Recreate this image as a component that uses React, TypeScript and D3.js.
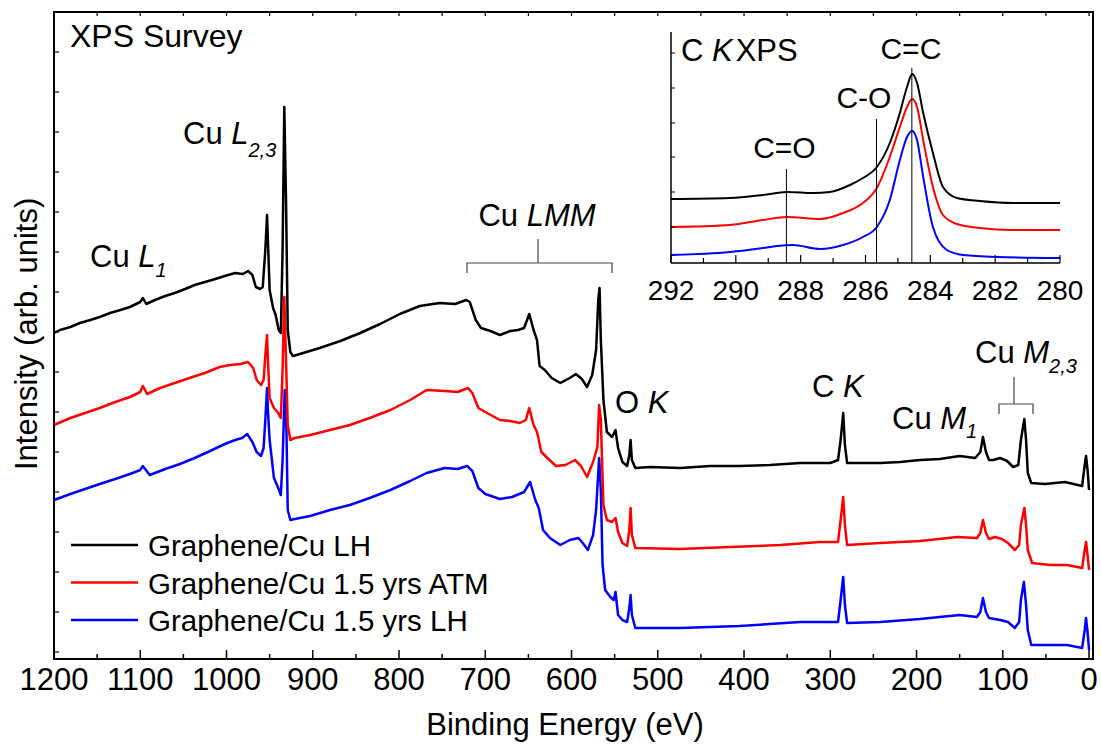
import React from 'react';
import * as d3 from 'd3';

// ---------- DATA (binding energy eV, intensity arb. units) ----------
const seriesNames = ['Graphene/Cu LH', 'Graphene/Cu 1.5 yrs ATM', 'Graphene/Cu 1.5 yrs LH'];
const seriesColors = ['#000000', '#ff0000', '#0000ff'];

const surveyLH: [number, number][] = [
  [1200, 326], [1193, 329], [1181, 332], [1170, 336], [1158, 339], [1147, 342], [1135, 346], [1123, 349],
  [1112, 352], [1100, 357], [1097, 361], [1093, 355], [1083, 359], [1071, 363], [1060, 366], [1048, 370],
  [1037, 374], [1025, 377], [1013, 380], [1002, 383], [990, 386], [981, 385], [975, 388], [970, 384],
  [966, 372], [961, 370], [958, 372], [955, 409], [953, 444], [952, 419], [950, 369], [946, 351],
  [943, 344], [939.5, 329], [937, 326], [935, 409], [933, 552], [931, 459], [929, 329], [926, 307],
  [923, 303], [915, 305], [892, 311], [868, 318], [845, 326], [822, 335], [799, 345], [776, 353],
  [753, 356], [735, 355], [722, 359], [718, 357], [711, 339], [705, 331], [694, 328], [683, 324],
  [671, 328], [662, 329], [655, 331], [649, 345], [644, 329], [640, 319], [637, 293], [631, 289],
  [623, 281], [613, 276], [602, 281], [595, 285], [588, 280], [582, 272], [576, 284], [571.5, 309],
  [569, 359], [567.5, 371], [566, 319], [563, 259], [559, 227], [553, 222], [549, 229], [546, 211],
  [541, 197], [535.5, 193], [533, 204], [531.5, 219], [530, 199], [526, 191], [509, 192], [474, 191],
  [439, 193], [405, 193], [370, 194], [335, 196], [300, 196], [291, 199], [288, 219], [285, 246],
  [283, 214], [280.5, 196], [265.5, 196], [242, 196], [219, 197], [196, 199], [173, 200], [150, 203],
  [132, 201], [126, 207], [123, 222], [119.5, 207], [116, 199], [111, 199], [103, 201], [95, 198],
  [88, 192], [82, 194], [79, 219], [75, 240], [73, 219], [71, 186], [67, 176], [51, 175], [28, 177],
  [13, 174], [8, 173], [5, 194], [3.5, 203], [1.7, 189], [0, 169],
];

const surveyATM: [number, number][] = [
  [1200, 234], [1181, 241], [1164, 246], [1147, 251], [1129, 257], [1112, 262], [1100, 267], [1097, 273],
  [1092, 265], [1077, 271], [1060, 276], [1043, 281], [1025, 286], [1008, 292], [996, 294], [984, 295],
  [975, 297], [969, 291], [965, 279], [960, 274], [957, 279], [955, 304], [953, 324], [952, 299],
  [950, 261], [945, 251], [940, 246], [937, 241], [935, 289], [933, 362], [931, 299], [929, 234],
  [926, 219], [921, 221], [903, 224], [880, 229], [857, 234], [834, 241], [810, 249], [787, 259],
  [768, 269], [747, 268], [732, 267], [720, 271], [715, 266], [708, 251], [700, 247], [683, 239],
  [671, 238], [660, 236], [653, 239], [649, 251], [644, 234], [640, 227], [635, 207], [628, 201],
  [618, 193], [607, 194], [596, 199], [589, 193], [582, 182], [575, 197], [570, 212], [568, 254],
  [566, 239], [563, 154], [559, 139], [553, 137], [549, 141], [546, 127], [541, 116], [535.5, 113],
  [533, 129], [531.5, 151], [530, 124], [526, 111], [474, 110], [416, 112], [358, 114], [312, 117],
  [291, 117], [288, 139], [285, 162], [283, 134], [280.5, 114], [242, 116], [196, 118], [153, 122],
  [130, 121], [126, 126], [123, 139], [119.5, 126], [116, 120], [109, 122], [101, 120], [94, 116],
  [86, 109], [81, 114], [79, 134], [75, 151], [73, 134], [71, 109], [66, 96], [45, 94], [25.5, 94],
  [8, 91], [5, 109], [3.5, 117], [1.7, 104], [0, 89],
];

const surveyAgedLH: [number, number][] = [
  [1200, 159], [1181, 165], [1164, 170], [1147, 175], [1129, 180], [1112, 185], [1100, 189], [1097, 193],
  [1089, 184], [1071, 190], [1054, 195], [1037, 201], [1019, 208], [1002, 215], [990, 219], [982, 221],
  [976, 225], [970, 217], [965, 207], [960, 203], [957, 211], [955, 239], [953, 271], [952, 249],
  [950, 219], [945, 181], [940, 171], [937, 164], [935, 199], [932.5, 269], [930.5, 229], [929, 149],
  [926, 139], [921, 140], [903, 143], [880, 149], [857, 154], [834, 161], [810, 169], [787, 178],
  [768, 186], [747, 191], [732, 190], [721, 193], [715, 188], [708, 171], [700, 165], [683, 160],
  [669, 162], [655, 167], [648, 177], [642, 159], [638, 151], [633, 129], [625, 121], [613, 114],
  [602, 119], [592, 121], [587, 116], [581, 109], [575, 124], [571.5, 149], [568, 201], [566, 169],
  [564, 94], [561, 69], [555, 62], [551, 59], [549, 67], [546, 44], [541, 39], [535.5, 37],
  [533, 51], [531.5, 64], [530, 44], [526, 31], [474, 31], [405, 33], [335, 37], [291, 37],
  [288, 59], [285, 82], [283, 54], [280.5, 36], [242, 37], [196, 40], [150, 44], [130, 42],
  [126, 47], [123, 61], [119.5, 47], [116, 41], [103, 39], [94, 37], [86, 31], [81, 37],
  [79, 59], [75.5, 77], [73, 54], [71, 29], [67, 14], [45, 14], [25.5, 14], [8, 11], [5, 29],
  [3.5, 41], [1.7, 27], [0, 9],
];

// Inset: C K (C 1s) region
const insetLH: [number, number][] = [
  [292, 64], [290.18, 65], [289.16, 68], [288.42, 71], [287.62, 70], [287.1, 71], [286.48, 78],
  [286.08, 85], [285.65, 96], [285.25, 120], [284.94, 150], [284.72, 176], [284.56, 189], [284.41, 180],
  [284.22, 150], [283.92, 110], [283.61, 76], [283.18, 65], [282.47, 62], [281.45, 60], [280, 60],
];
const insetATM: [number, number][] = [
  [292, 36], [290.18, 38], [289.16, 43], [288.42, 46], [287.4, 44], [286.69, 50], [286.08, 60],
  [285.65, 75], [285.25, 106], [284.94, 136], [284.72, 156], [284.56, 164], [284.41, 156], [284.22, 123],
  [283.92, 76], [283.61, 48], [283.18, 39], [282.47, 35], [281.45, 33], [280, 33],
];
const insetAgedLH: [number, number][] = [
  [292, 8], [290.18, 11], [289.16, 15], [288.73, 17], [288.24, 18], [287.4, 14], [286.69, 18],
  [286.08, 26], [285.65, 36], [285.25, 63], [284.94, 103], [284.72, 126], [284.56, 132], [284.41, 123],
  [284.22, 86], [283.92, 36], [283.49, 13], [282.99, 8], [281.94, 6], [280, 5],
];

const mainXTicks = [1200, 1100, 1000, 900, 800, 700, 600, 500, 400, 300, 200, 100, 0];
const mainXMinor = [1150, 1050, 950, 850, 750, 650, 550, 450, 350, 250, 150, 50];
const mainYTicks = [7, 47, 87, 127, 167, 207, 247, 287, 327, 367, 407, 447, 487, 527, 567, 607];
const insetXTicks = [292, 290, 288, 286, 284, 282, 280];
const insetXMinor = [291, 289, 287, 285, 283, 281];
const insetYTicks = [36, 71, 106, 140, 175, 210];
const insetMarkers: { label: string; e: number; top: number; textE: number; textY: number }[] = [
  { label: 'C=O', e: 288.44, top: 169, textE: 288.5, textY: 158 },
  { label: 'C-O', e: 285.66, top: 119, textE: 286.05, textY: 108 },
  { label: 'C=C', e: 284.57, top: 68, textE: 284.6, textY: 59 },
];

const FONT = '"Liberation Sans", Arial, Helvetica, sans-serif';

export default function App() {
  const W = 1101, H = 748;
  const L = 54, R = 1093, T = 12, B = 659;
  const x = d3.scaleLinear().domain([1200, -4.6]).range([L, R]);
  const y = d3.scaleLinear().domain([0, 647]).range([B, T]);

  const ix = d3.scaleLinear().domain([292, 280]).range([671, 1060]);
  const iy = d3.scaleLinear().domain([0, 231]).range([263, 32]);

  const line = d3.line<[number, number]>().x(d => x(d[0])).y(d => y(d[1]));
  const iline = d3.line<[number, number]>().x(d => ix(d[0])).y(d => iy(d[1])).curve(d3.curveMonotoneX);

  const survey = [surveyLH, surveyATM, surveyAgedLH];
  const inset = [insetLH, insetATM, insetAgedLH];

  const bracket = '#444';
  const AF = 31; // annotation font size
  const SF = 20; // subscript font size

  return (
    <div style={{ position: 'absolute', left: 0, top: 0, width: W, height: H, background: '#fff' }}>
      <svg width={W} height={H} style={{ display: 'block', fontFamily: FONT }}>
        <rect x={0} y={0} width={W} height={H} fill="#fff" />
        {/* survey curves */}
        {survey.map((s, i) => (
          <path key={i} d={line(s) || ''} fill="none" stroke={seriesColors[i]} strokeWidth={2.5} strokeLinejoin="round" />
        )).reverse()}

        {/* frame */}
        <rect x={L} y={T} width={R - L} height={B - T} fill="none" stroke="#000" strokeWidth={2} />
        {mainXTicks.map(t => (
          <g key={'mx' + t}>
            <line x1={x(t)} x2={x(t)} y1={B} y2={B - 9} stroke="#000" strokeWidth={1.5} />
            <line x1={x(t)} x2={x(t)} y1={T} y2={T + 4} stroke="#000" strokeWidth={1.2} />
            <text x={x(t)} y={690} fontSize={31} textAnchor="middle">{t}</text>
          </g>
        ))}
        {mainXMinor.map(t => (
          <g key={'mm' + t}>
            <line x1={x(t)} x2={x(t)} y1={B} y2={B - 5} stroke="#000" strokeWidth={1.5} />
            <line x1={x(t)} x2={x(t)} y1={T} y2={T + 4} stroke="#000" strokeWidth={1.2} />
          </g>
        ))}
        {mainYTicks.map(t => (
          <line key={'my' + t} x1={L} x2={L + 5} y1={y(t)} y2={y(t)} stroke="#000" strokeWidth={1.2} />
        ))}
        <text x={565} y={735} fontSize={31} textAnchor="middle">Binding Energy (eV)</text>
        <text transform="translate(37,470) rotate(-90)" fontSize={31} textAnchor="start">Intensity (arb. units)</text>

        {/* annotations */}
        <text x={70} y={47} fontSize={32}>XPS Survey</text>
        <text x={90} y={267} fontSize={AF}>Cu <tspan fontStyle="italic">L</tspan><tspan fontStyle="italic" fontSize={SF} dy={10}>1</tspan></text>
        <text x={183} y={144} fontSize={AF}>Cu <tspan fontStyle="italic">L</tspan><tspan fontStyle="italic" fontSize={SF} dy={13}>2,3</tspan></text>
        <text x={537} y={226} fontSize={AF} textAnchor="middle">Cu <tspan fontStyle="italic">LMM</tspan></text>
        <path d="M467,273 V263 H612 V273 M538,263 V239" fill="none" stroke={bracket} strokeWidth={1.2} />
        <text x={615} y={413} fontSize={AF}>O <tspan fontStyle="italic">K</tspan></text>
        <text x={812} y={397} fontSize={AF}>C <tspan fontStyle="italic">K</tspan></text>
        <text x={892} y={429} fontSize={AF}>Cu <tspan fontStyle="italic">M</tspan><tspan fontStyle="italic" fontSize={SF} dy={9}>1</tspan></text>
        <text x={975} y={363} fontSize={AF}>Cu <tspan fontStyle="italic">M</tspan><tspan fontStyle="italic" fontSize={SF} dy={10}>2,3</tspan></text>
        <path d="M999,414 V404 H1033 V414 M1014,404 V377" fill="none" stroke={bracket} strokeWidth={1.2} />

        {/* legend */}
        {seriesNames.map((n, i) => {
          const ly = 545 + i * 37.5;
          return (
            <g key={'lg' + i}>
              <line x1={71} x2={138} y1={ly} y2={ly} stroke={seriesColors[i]} strokeWidth={2.5} />
              <text x={148} y={ly + 11} fontSize={29.5}>{n}</text>
            </g>
          );
        })}

        {/* inset */}
        <g>
          {inset.map((s, i) => (
            <path key={'in' + i} d={iline(s) || ''} fill="none" stroke={seriesColors[i]} strokeWidth={2} strokeLinejoin="round" />
          ))}
          {insetMarkers.map(m => (
            <g key={m.label}>
              <line x1={ix(m.e)} x2={ix(m.e)} y1={m.top} y2={263} stroke="#000" strokeWidth={1} />
              <text x={ix(m.textE)} y={m.textY} fontSize={30} textAnchor="middle">{m.label}</text>
            </g>
          ))}
          <line x1={671} x2={671} y1={32} y2={263} stroke="#000" strokeWidth={1.5} />
          <line x1={671} x2={1060} y1={263} y2={263} stroke="#000" strokeWidth={1.5} />
          {insetXTicks.map(t => (
            <g key={'ix' + t}>
              <line x1={ix(t)} x2={ix(t)} y1={263} y2={255} stroke="#000" strokeWidth={1.2} />
              <text x={ix(t)} y={300} fontSize={28} textAnchor="middle">{t}</text>
            </g>
          ))}
          {insetXMinor.map(t => (
            <line key={'im' + t} x1={ix(t)} x2={ix(t)} y1={263} y2={258} stroke="#000" strokeWidth={1.2} />
          ))}
          {insetYTicks.map(t => (
            <line key={'iy' + t} x1={671} x2={675} y1={iy(t)} y2={iy(t)} stroke="#000" strokeWidth={1} />
          ))}
          <text x={681} y={61} fontSize={31}>C <tspan fontStyle="italic">K</tspan><tspan dx={3}>XPS</tspan></text>
        </g>
      </svg>
    </div>
  );
}
